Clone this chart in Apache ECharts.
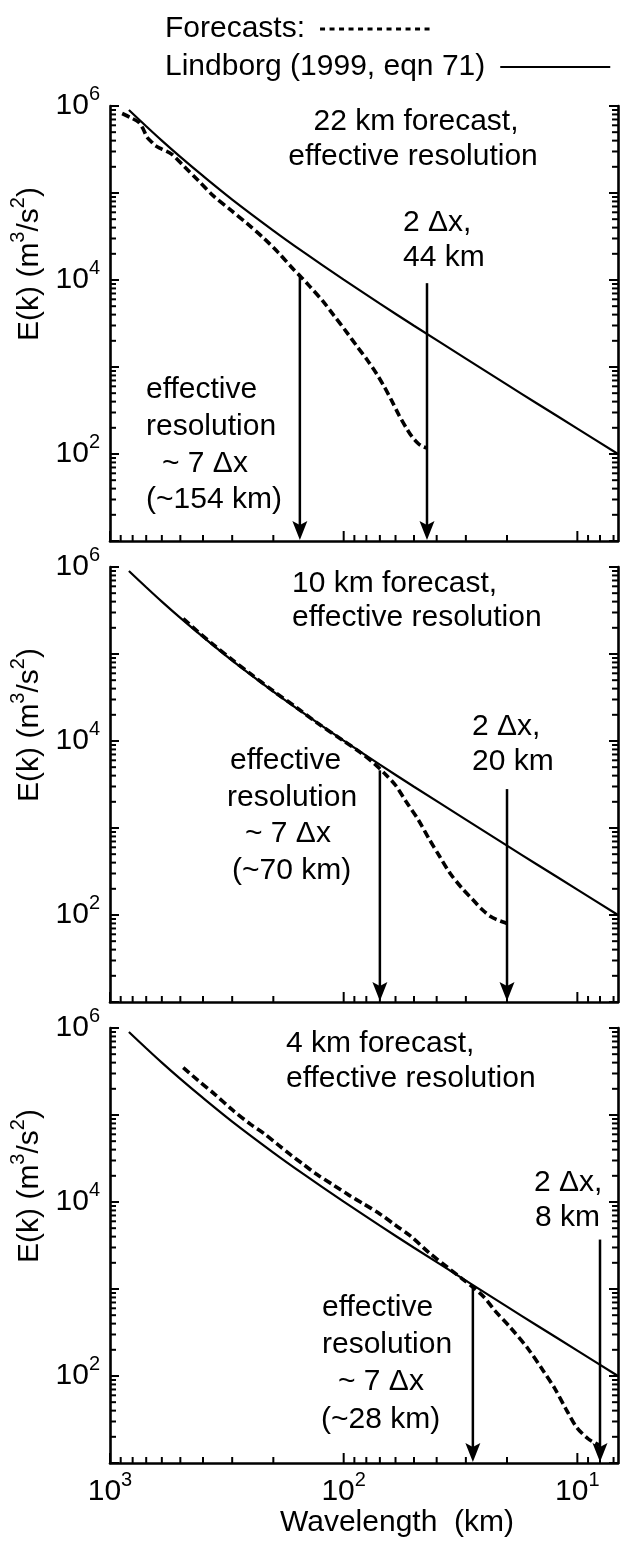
<!DOCTYPE html>
<html>
<head>
<meta charset="utf-8">
<script src="https://cdn.jsdelivr.net/npm/echarts@6/dist/echarts.min.js"></script>
<style>
  html, body { margin: 0; padding: 0; background: #fff; }
  #chart { width: 621px; height: 1542px; }
</style>
</head>
<body>
<div id="chart"></div>
<script>
// Kinetic energy spectra E(k) (m^3/s^2) against wavelength (km), three forecast resolutions.

// Lindborg (1999, eqn 71) reference spectrum, shared by all panels
const lindborgKm = [830, 700, 600, 500, 400, 300, 200, 150, 100, 70, 50, 30, 20, 15, 10, 6.7];
const lindborgE  = [9.0e5, 5.85e5, 4.0e5, 2.6e5, 1.57e5, 8.4e4, 3.7e4, 2.13e4, 1.01e4, 5.35e3, 2.98e3, 1.25e3, 627, 386, 196, 100];

// 22 km forecast spectrum
const fc22Km = [887, 820, 754, 720, 695, 660, 640, 600, 545, 480, 420, 360, 303, 260, 219, 190, 163, 154, 140, 123, 110, 97, 88, 79, 72, 67, 62, 58, 54, 51, 48, 46, 44];
const fc22E  = [8.2e5, 7.4e5, 6.5e5, 5.4e5, 4.4e5, 3.8e5, 3.5e5, 3.2e5, 2.8e5, 2.0e5, 1.4e5, 9.2e4, 6.3e4, 4.5e4, 3.0e4, 2.05e4, 1.3e4, 1.12e4, 8.5e3, 5.75e3, 3.9e3, 2.5e3, 1.75e3, 1.19e3, 820, 590, 400, 280, 200, 158, 132, 122, 117];

// 10 km forecast spectrum
const fc10Km = [486, 420, 360, 300, 250, 200, 160, 130, 100, 85, 74, 66, 60, 54, 48, 43, 39, 35, 31, 28, 25.5, 23.5, 22, 20.8, 20];
const fc10E  = [2.55e5, 1.8e5, 1.27e5, 8.6e4, 5.9e4, 3.75e4, 2.45e4, 1.62e4, 1.0e4, 7.4e3, 5.5e3, 4.1e3, 3.1e3, 2.0e3, 1.25e3, 740, 480, 300, 200, 150, 115, 96, 88, 83, 80];

// 4 km forecast spectrum
const fc4Km = [486, 420, 356, 300, 250, 219, 190, 169, 150, 130, 110, 95, 82.6, 70, 60, 52, 43, 36, 31, 28, 25, 22.5, 19.5, 16.2, 14, 12.5, 11.2, 10.1, 9, 8.4, 8];
const fc4E  = [3.5e5, 2.5e5, 1.73e5, 1.15e5, 7.8e4, 6.1e4, 4.5e4, 3.5e4, 2.75e4, 2.07e4, 1.55e4, 1.2e4, 9.6e3, 7.3e3, 5.4e3, 4.1e3, 2.6e3, 1.78e3, 1.3e3, 1.05e3, 800, 560, 370, 203, 115, 72, 42, 26, 19, 17, 16];

// Marker arrows: wavelength (km) and the energy level where each arrow starts
const arrowKm22 = [154, 44];  const arrowTopE22 = [1.12e4, 9.2e3];
const arrowKm10 = [70, 20];   const arrowTopE10 = [4.6e3, 2.8e3];
const arrowKm4  = [28, 8];    const arrowTopE4  = [1.05e3, 3.7e3];

// Axis ranges and labelled decades
const X_MIN = 6.7, X_MAX = 1000;
const Y_MIN = 10, Y_MAX = 1e6;
const yLabelExponents = [2, 4, 6];
const xLabelExponents = [1, 2, 3];

// Annotation text
const panelTitles = [
  ['22 km forecast,', 'effective resolution'],
  ['10 km forecast,', 'effective resolution'],
  ['4 km forecast,', 'effective resolution']
];
const gridNotes = [['2 \u0394x,', '44 km'], ['2 \u0394x,', '20 km'], ['2 \u0394x,', '8 km']];
const effNotes = [
  ['effective', 'resolution', '~ 7 \u0394x', '(~154 km)'],
  ['effective', 'resolution', '~ 7 \u0394x', '(~70 km)'],
  ['effective', 'resolution', '~ 7 \u0394x', '(~28 km)']
];
const FORECAST_NAME = 'Forecasts:';
const LINDBORG_NAME = 'Lindborg (1999, eqn 71)';

const FONT = '"Liberation Sans", Arial, Helvetica, sans-serif';
const pair = (xs, ys) => xs.map((x, i) => [x, ys[i]]);

const panelTop = [106, 567, 1028];
const panelH = 435;
const gridLeft = 110, gridWidth = 508;

const supRich = {
  b: { fontSize: 30, lineHeight: 44, fontFamily: FONT, color: '#000' },
  s: { fontSize: 20, lineHeight: 22, verticalAlign: 'top', fontFamily: FONT, color: '#000' }
};

function powLabel(v, allowed) {
  const e = Math.round(Math.log10(v));
  if (Math.abs(v - Math.pow(10, e)) / v > 1e-6) return '';
  if (allowed.indexOf(e) < 0) return '';
  return '{b|10}{s|' + e + '}';
}

// Tick marks (major at decades, minor at 2..9) drawn inside the frame
function tickSeries(gi) {
  const data = [];
  for (let e = 1; e <= 6; e++) data.push([100, Math.pow(10, e), 0, 1]);
  for (let e = 1; e < 6; e++) for (let m = 2; m <= 9; m++) data.push([100, m * Math.pow(10, e), 0, 0]);
  for (let e = 0; e <= 3; e++) { const v = Math.pow(10, e); if (v >= X_MIN && v <= X_MAX) data.push([v, 100, 1, 1]); }
  for (let e = 0; e < 3; e++) for (let m = 2; m <= 9; m++) {
    const v = m * Math.pow(10, e);
    if (v > X_MIN && v < X_MAX) data.push([v, 100, 1, 0]);
  }
  return {
    type: 'custom', xAxisIndex: gi, yAxisIndex: 2 * gi, silent: true, clip: false, z: 5,
    dimensions: ['x', 'y', 'kind', 'major'], encode: { x: 0, y: 1 },
    data,
    renderItem(params, api) {
      const cs = params.coordSys;
      const p = api.coord([api.value(0), api.value(1)]);
      const major = api.value(3) === 1;
      const style = { stroke: '#000', lineWidth: 2 };
      if (api.value(2) === 0) {
        const len = major ? 9 : 6;
        return { type: 'group', children: [
          { type: 'line', shape: { x1: cs.x, y1: p[1], x2: cs.x + len, y2: p[1] }, style },
          { type: 'line', shape: { x1: cs.x + cs.width - len, y1: p[1], x2: cs.x + cs.width, y2: p[1] }, style }
        ] };
      }
      const len = major ? 10 : 6;
      return { type: 'line', shape: { x1: p[0], y1: cs.y + cs.height, x2: p[0], y2: cs.y + cs.height - len }, style };
    }
  };
}

// Downward arrows ending on the bottom axis
function arrowSeries(gi, kms, tops) {
  return {
    type: 'custom', xAxisIndex: gi, yAxisIndex: 2 * gi, silent: true, clip: false, z: 6,
    encode: { x: 0, y: 1 },
    data: pair(kms, tops),
    renderItem(params, api) {
      const p = api.coord([api.value(0), api.value(1)]);
      const b = api.coord([api.value(0), Y_MIN]);
      const x = p[0], y0 = p[1], y1 = b[1] - 1;
      const hh = 19, hw = 7.5;
      return { type: 'group', children: [
        { type: 'line', shape: { x1: x, y1: y0, x2: x, y2: y1 - hh + 4 }, style: { stroke: '#000', lineWidth: 2.5 } },
        { type: 'polygon', shape: { points: [[x, y1], [x - hw, y1 - hh], [x, y1 - hh + 4], [x + hw, y1 - hh]] }, style: { fill: '#000' } }
      ] };
    }
  };
}

const grids = [], xAxes = [], yAxes = [], series = [];
const forecasts = [[fc22Km, fc22E], [fc10Km, fc10E], [fc4Km, fc4E]];
const arrows = [[arrowKm22, arrowTopE22], [arrowKm10, arrowTopE10], [arrowKm4, arrowTopE4]];

for (let gi = 0; gi < 3; gi++) {
  grids.push({ left: gridLeft, width: gridWidth, top: panelTop[gi], height: panelH });
  xAxes.push({
    type: 'log', logBase: 10, gridIndex: gi, inverse: true, min: X_MIN, max: X_MAX, position: 'bottom',
    axisLine: { show: true, onZero: false, lineStyle: { color: '#000', width: 2.6 } },
    axisTick: { show: false }, splitLine: { show: false }, minorTick: { show: false },
    axisLabel: {
      show: gi === 2, margin: 7, showMinLabel: true, showMaxLabel: true, hideOverlap: false,
      formatter: v => powLabel(v, xLabelExponents), rich: supRich
    }
  });
  yAxes.push({
    type: 'log', logBase: 10, gridIndex: gi, min: Y_MIN, max: Y_MAX, position: 'left',
    axisLine: { show: true, onZero: false, lineStyle: { color: '#000', width: 2.6 } },
    axisTick: { show: false }, splitLine: { show: false },
    axisLabel: {
      margin: 10, showMinLabel: true, showMaxLabel: true, hideOverlap: false,
      formatter: v => powLabel(v, yLabelExponents), rich: supRich
    }
  });
  yAxes.push({
    type: 'log', logBase: 10, gridIndex: gi, min: Y_MIN, max: Y_MAX, position: 'right',
    axisLine: { show: true, onZero: false, lineStyle: { color: '#000', width: 2.6 } },
    axisTick: { show: false }, splitLine: { show: false }, axisLabel: { show: false }
  });

  series.push({
    type: 'line', name: LINDBORG_NAME, xAxisIndex: gi, yAxisIndex: 2 * gi,
    data: pair(lindborgKm, lindborgE), symbol: 'none', smooth: 0.3, z: 3,
    lineStyle: { color: '#000', width: 2.2, type: 'solid' }
  });
  series.push({
    type: 'line', name: FORECAST_NAME, xAxisIndex: gi, yAxisIndex: 2 * gi,
    data: pair(forecasts[gi][0], forecasts[gi][1]), symbol: 'none', smooth: 0.3, z: 4,
    lineStyle: { color: '#000', width: 3.6, type: [8, 4], cap: 'butt' }
  });
  series.push(arrowSeries(gi, arrows[gi][0], arrows[gi][1]));
  series.push(tickSeries(gi));
}

// Text annotations
const graphics = [];
function txt(str, x, y, align) {
  graphics.push({
    type: 'text', x, y, silent: true, z: 10,
    style: { text: str, fontSize: 30, fontFamily: FONT, fill: '#000',
             align: align || 'left', verticalAlign: 'middle',
             textAlign: align || 'left', textVerticalAlign: 'middle' }
  });
}

// panel headings
txt(panelTitles[0][0], 416, 122, 'center');
txt(panelTitles[0][1], 413, 157, 'center');
txt(panelTitles[1][0], 292, 584);
txt(panelTitles[1][1], 292, 618);
txt(panelTitles[2][0], 286, 1044);
txt(panelTitles[2][1], 286, 1079);

// grid-spacing notes
txt(gridNotes[0][0], 403, 223); txt(gridNotes[0][1], 403, 258);
txt(gridNotes[1][0], 472, 727); txt(gridNotes[1][1], 472, 762);
txt(gridNotes[2][0], 534, 1183); txt(gridNotes[2][1], 535, 1218);

// effective-resolution notes
const effLeft = [[146, 146, 162, 146], [230, 227, 245, 232], [322, 322, 338, 321]];
const effY = [[390, 427, 464, 500], [761, 798, 834, 871], [1308, 1345, 1382, 1420]];
for (let gi = 0; gi < 3; gi++) {
  for (let k = 0; k < 4; k++) txt(effNotes[gi][k], effLeft[gi][k], effY[gi][k]);
}

// y-axis titles
for (let gi = 0; gi < 3; gi++) {
  graphics.push({
    type: 'text', x: 30, y: panelTop[gi] + 158, rotation: Math.PI / 2, silent: true, z: 10,
    style: {
      text: '{m|E(k) (m}{s|3}{m|/s}{s|2}{m|)}',
      rich: {
        m: { fontSize: 30, lineHeight: 44, fontFamily: FONT, color: '#000' },
        s: { fontSize: 20, lineHeight: 22, verticalAlign: 'top', fontFamily: FONT, color: '#000' }
      },
      align: 'center', verticalAlign: 'middle', textAlign: 'center', textVerticalAlign: 'middle'
    }
  });
}
// x-axis title
txt('Wavelength  (km)', 397, 1523, 'center');

// One legend row per entry, each starting at the same left edge
function legendRow(top, name, lineStyle) {
  return {
    left: 160, top, orient: 'horizontal', align: 'right',
    itemWidth: 110, itemHeight: 12, selectedMode: false, icon: 'inherit',
    textStyle: { fontSize: 30, color: '#000', fontFamily: FONT, padding: [0, 10, 0, 0] },
    data: [{ name, icon: 'inherit', itemStyle: { opacity: 0 }, lineStyle }]
  };
}

const chart = echarts.init(document.getElementById('chart'), null, { renderer: 'canvas' });
chart.setOption({
  animation: false,
  backgroundColor: '#fff',
  textStyle: { fontFamily: FONT },
  legend: [
    legendRow(9, FORECAST_NAME, { type: [5, 4.5], width: 3, color: '#000' }),
    legendRow(47, LINDBORG_NAME, { type: 'solid', width: 2.2, color: '#000' })
  ],
  grid: grids,
  xAxis: xAxes,
  yAxis: yAxes,
  series,
  graphic: graphics
});
</script>
</body>
</html>
